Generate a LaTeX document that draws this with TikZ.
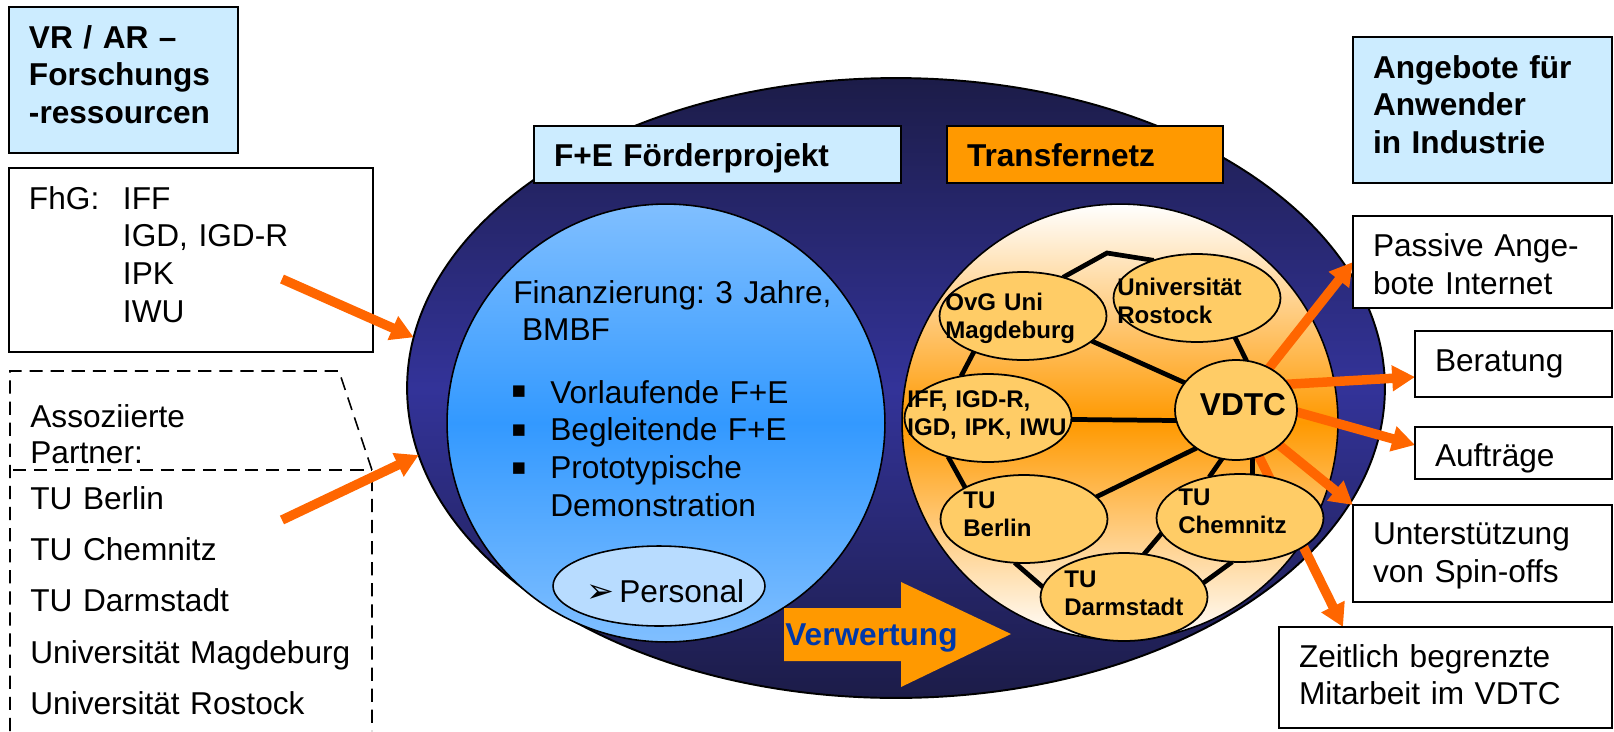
\documentclass[tikz,border=0pt]{standalone}
\usepackage{fontspec}
\setmainfont{Liberation Sans}
\newfontfamily\symfont{DejaVu Sans}
\usetikzlibrary{shapes.geometric,arrows.meta,calc}
\hyphenpenalty=10000
\exhyphenpenalty=10000
\frenchspacing

\definecolor{hellblau}{HTML}{CCECFF}
\definecolor{orangebox}{HTML}{FF9900}
\definecolor{knoten}{HTML}{FFCC66}
\definecolor{pfeilorange}{HTML}{FF6600}
\definecolor{navydunkel}{HTML}{1C1C48}
\definecolor{navymitte}{HTML}{333399}
\definecolor{blaumitte}{HTML}{3399FF}
\definecolor{blauhell}{HTML}{80BFFF}
\definecolor{personalblau}{HTML}{B8DCFF}
\definecolor{verwblau}{HTML}{0038A8}

\pgfdeclarelayer{hinten}
\pgfsetlayers{hinten,main}

\tikzset{
  kasten/.style={draw, fill=white, rectangle, line width=1.1pt, anchor=north west,
    inner xsep=0.4cm, inner ysep=0pt, outer sep=0pt, align=left,
    font=\fontsize{18}{21.6}\selectfont},
  titel/.style={kasten, fill=hellblau, font=\bfseries\fontsize{18}{21.6}\selectfont},
  uni/.style={ellipse, draw, line width=1pt, fill=knoten, inner sep=0pt, outer sep=0pt,
    minimum width=3.34cm, minimum height=1.76cm},
  unitext/.style={anchor=base west, inner sep=0pt, text width=4cm, align=left,
    font=\bfseries\fontsize{13.7}{16.2}\selectfont},
  txt/.style={anchor=base west, inner sep=0pt, text width=8cm, align=left,
    font=\fontsize{18}{21.6}\selectfont},
  netz/.style={line width=2.7pt},
  strich/.style={line width=.9pt, dash pattern=on 7.5pt off 4.5pt},
  pfeil/.style={draw=pfeilorange, line width=5.4pt, -{Triangle[length=13pt,width=14pt]}},
}

\begin{document}
\begin{tikzpicture}[x=0.02cm,y=-0.02cm]
\useasboundingbox (0,0) rectangle (1614,731);

\begin{pgfonlayer}{hinten}
  \node[ellipse, draw, line width=1.1pt, inner sep=0pt, outer sep=0pt,
    minimum width=19.56cm, minimum height=12.4cm,
    top color=navydunkel, bottom color=navydunkel, middle color=navymitte] (aussen) at (896,388) {};
  \node[circle, draw, line width=.9pt, inner sep=0pt, outer sep=0pt, minimum size=8.76cm,
    top color=blauhell, bottom color=blauhell, middle color=blaumitte] (foerder) at (666,423) {};
  \node[circle, draw, line width=.9pt, inner sep=0pt, outer sep=0pt, minimum size=8.72cm,
    top color=white, bottom color=white, middle color=orangebox] (transfer) at (1120,422) {};
\end{pgfonlayer}

% linke Seite
\node[titel, minimum width=4.58cm, minimum height=2.92cm, text width=3.78cm,
  text height=13pt, text depth=49.4pt] (vrar) at (9,7) {VR / AR –\\Forschungs\\-ressourcen};
\node[kasten, minimum width=7.28cm, minimum height=3.68cm, text width=6.48cm,
  text height=13pt, text depth=71pt] (fhg) at (9,168)
  {\makebox[1.88cm][l]{FhG:}IFF\\\hspace*{1.88cm}IGD, IGD-R\\\hspace*{1.88cm}IPK\\\hspace*{1.88cm}IWU};
\draw[strich] (10,731) -- (10,371) -- (339,371) -- (372,470) -- (372,731);
\draw[strich] (13,470) -- (372,470);
\node[txt, font=\fontsize{18}{20.5}\selectfont] (assoz) at (30,427) {Assoziierte\\Partner:};
\node[txt, font=\fontsize{18}{29.3}\selectfont] (partner) at (30,509)
  {TU Berlin\\TU Chemnitz\\TU Darmstadt\\Universität Magdeburg\\Universität Rostock};

% Mitte
\node[titel, minimum width=7.34cm, minimum height=1.14cm, text width=6.54cm,
  text height=20pt, text depth=5.8pt] (fe) at (534,126) {F+E Förderprojekt};
\node[titel, fill=orangebox, minimum width=5.52cm, minimum height=1.14cm, text width=4.72cm,
  text height=20pt, text depth=5.8pt] (tn) at (947,126) {Transfernetz};

\node[txt] (finanz) at (513,303) {Finanzierung: 3 Jahre,\\\hspace*{5pt}BMBF};
\node[txt] (liste) at (550,403) {Vorlaufende F+E\\Begleitende F+E\\Prototypische\\Demonstration};
\foreach \y [count=\i] in {392,431,469}
  \node[inner sep=0pt, font=\symfont\fontsize{8.5}{10}\selectfont] (punkt\i) at (519,\y) {■};

\node[ellipse, draw, line width=.9pt, fill=personalblau, inner sep=0pt,
  minimum width=4.24cm, minimum height=1.6cm] (pers) at (659,586) {};
\node[inner sep=0pt, font=\symfont\fontsize{19}{20}\selectfont] (perspfeil) at (600,594) {➢};
\node[txt] (perstext) at (619,602) {Personal};

\fill[orangebox] (784,608) -- (901,608) -- (901,582) -- (1011,634) -- (901,687)
  -- (901,661) -- (784,661) -- cycle;
\node[txt, text=verwblau, font=\bfseries\fontsize{18}{21.6}\selectfont] (verw) at (785,645) {Verwertung};

% Transfernetz
\node[uni] (ovg) at (1023,316) {};
\node[uni] (ros) at (1197,298) {};
\node[uni] (iff) at (988,418) {};
\node[uni, minimum width=2.44cm, minimum height=2cm] (vdtc) at (1236,410) {};
\node[uni] (ber) at (1024,519) {};
\node[uni] (che) at (1240,518) {};
\node[uni] (dar) at (1124,597) {};
\coordinate (knick) at (1107,253);

\node[unitext] (ovgt) at (945,310) {OvG Uni\\Magdeburg};
\node[unitext] (rost) at (1117,295) {Universität\\Rostock};
\node[unitext] (ifft) at (907,407) {IFF, IGD-R,\\IGD, IPK, IWU};
\node[unitext] (bert) at (963,508) {TU\\Berlin};
\node[unitext] (chet) at (1178,505) {TU\\Chemnitz};
\node[unitext] (dart) at (1064,587) {TU\\Darmstadt};
\node[inner sep=0pt, font=\bfseries\fontsize{18}{21.6}\selectfont] (vdtct) at (1243,405) {VDTC};

% rechte Seite
\node[titel, minimum width=5.18cm, minimum height=2.92cm, text width=4.38cm,
  text height=13pt, text depth=49.4pt] (angebot) at (1353,37) {Angebote für\\Anwender\\in Industrie};
\node[kasten, minimum width=5.18cm, minimum height=1.84cm, text width=4.38cm,
  text height=13pt, text depth=18.7pt] (pass) at (1353,216) {Passive Ange-\\bote Internet};
\node[kasten, minimum width=3.94cm, minimum height=1.32cm, text width=3.14cm,
  text height=13pt, text depth=3.9pt] (berat) at (1415,331) {Beratung};
\node[kasten, minimum width=3.94cm, minimum height=1.04cm, text width=3.14cm,
  text height=20pt, text depth=4.1pt] (auft) at (1415,427) {Aufträge};
\node[kasten, minimum width=5.18cm, minimum height=1.94cm, text width=4.38cm,
  text height=13pt, text depth=22.7pt] (spin) at (1353,505) {Unterstützung\\von Spin-offs};
\node[kasten, minimum width=6.66cm, minimum height=2.02cm, text width=5.86cm,
  text height=13pt, text depth=24.9pt] (zeit) at (1279,627) {Zeitlich begrenzte\\Mitarbeit im VDTC};

\coordinate (quelle1) at (282,279);
\coordinate (quelle2) at (282,520);
\draw[pfeil] (quelle1) -- (aussen.174);
\draw[pfeil] (quelle2) -- (aussen.188);

\begin{pgfonlayer}{hinten}
  \draw[netz] (ovg.44) -- (knick) -- (ros.139);
  \draw[netz] (ovg.216) -- (iff.123);
  \draw[netz] (ovg.-20) -- (vdtc.152);
  \draw[netz] (ros.-46) -- (vdtc.78);
  \draw[netz] (iff.-1) -- (vdtc.190);
  \draw[netz] (iff.224) -- (ber.152);
  \draw[netz] (ber.17) -- (vdtc.224);
  \draw[netz] (vdtc.254) -- (che.127);
  \draw[netz] (vdtc.289) -- (che.74);
  \draw[netz] (ber.258) -- (dar.173);
  \draw[netz] (che.191) -- (dar.65);
  \draw[netz] (che.260) -- (dar.10);

  \draw[pfeil] (vdtc.center) -- (pass.west);
  \draw[pfeil] ([yshift=13pt]vdtc.center) -- ($(berat.west)+(0,13)$);
  \draw[pfeil] ([yshift=8.5pt]vdtc.center) -- ($(auft.west)+(0,-8)$);
  \draw[pfeil] (vdtc.center) -- (spin.north west);
  \draw[pfeil] (vdtc.center) -- ($(zeit.north west)+(64,0)$);
\end{pgfonlayer}
\end{tikzpicture}
\end{document}
